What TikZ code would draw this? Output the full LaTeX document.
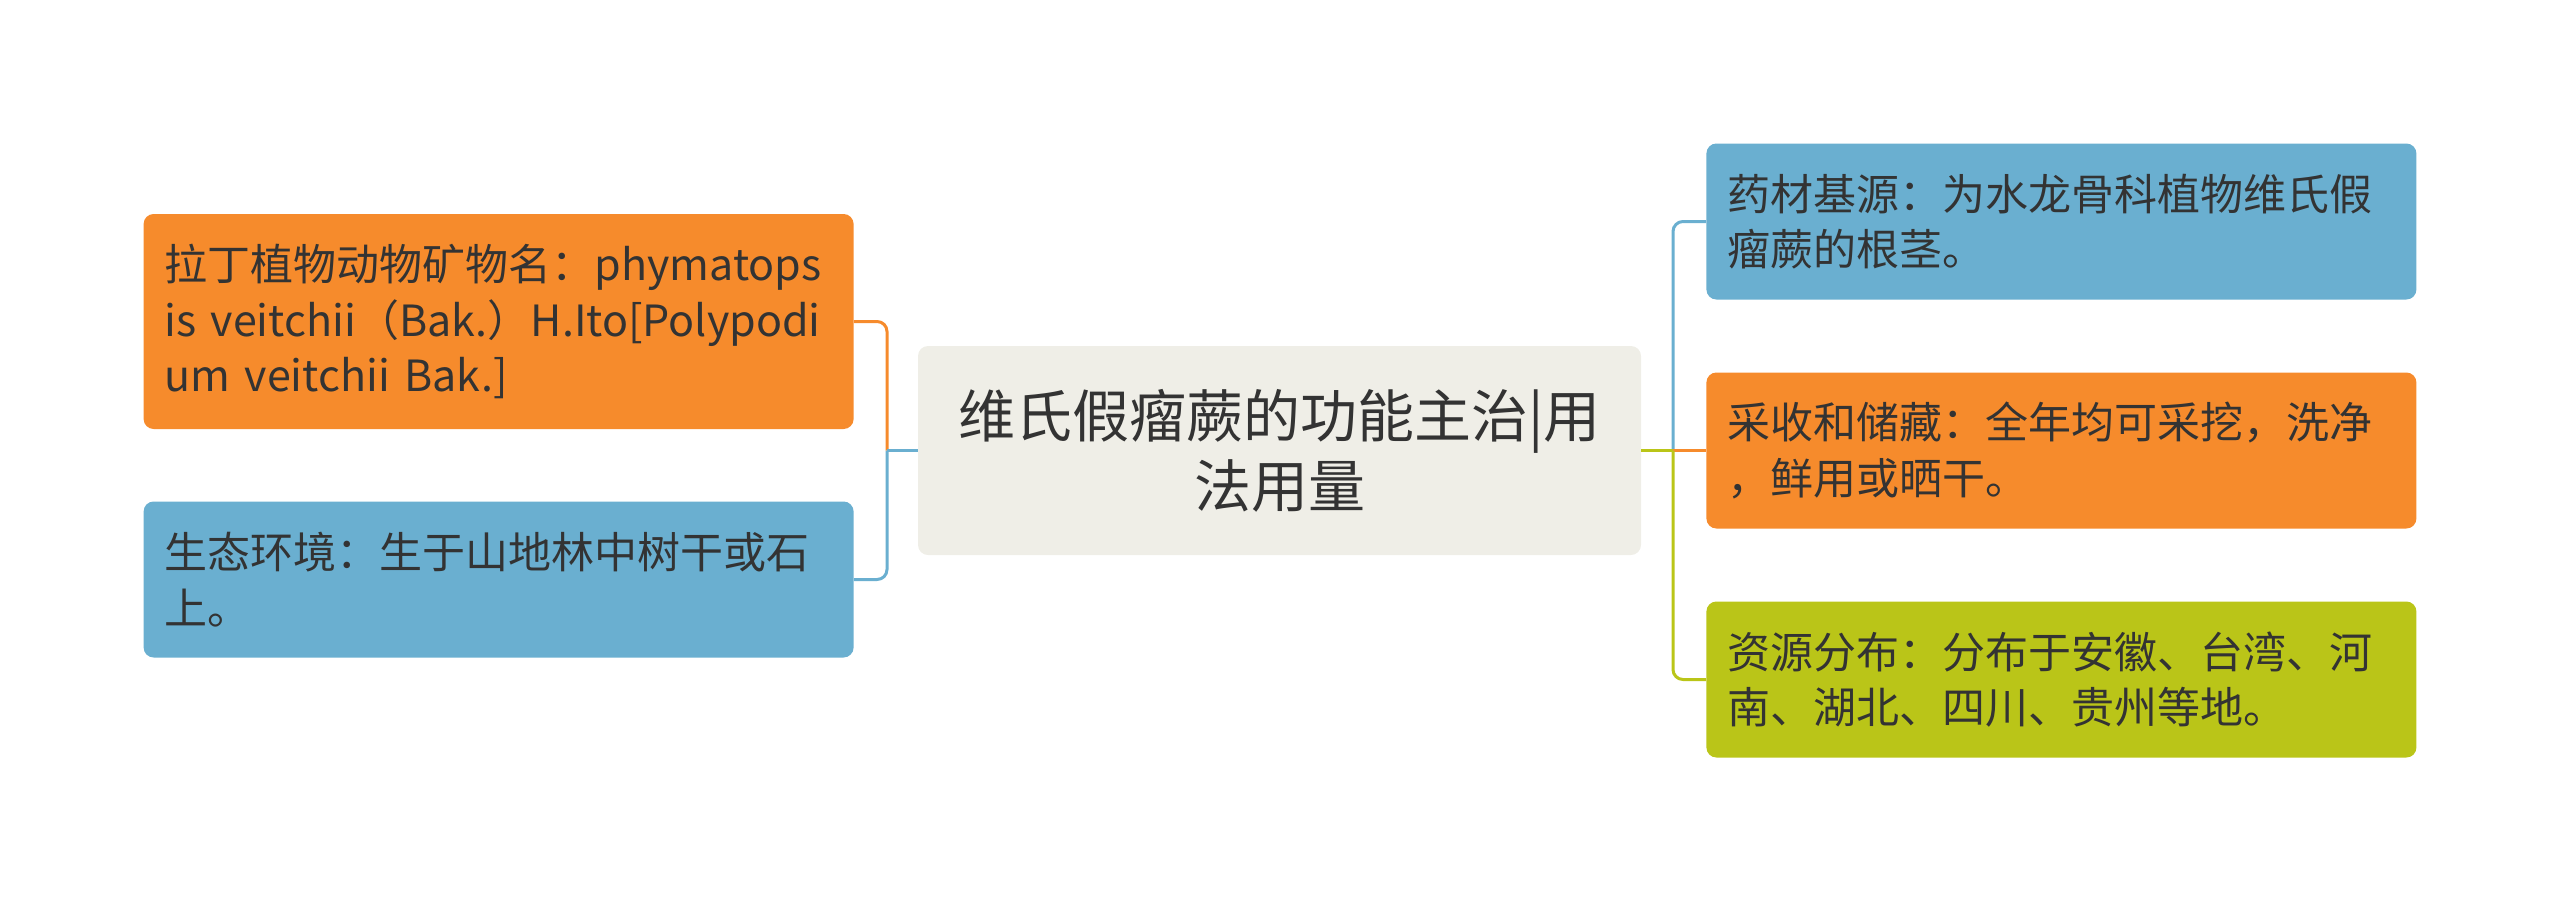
\documentclass[tikz,border=0pt]{standalone}
\usepackage{fontspec}
\setmainfont{Noto Sans CJK SC}
\usetikzlibrary{positioning}
\definecolor{mapOrange}{HTML}{F68B2C}
\definecolor{mapBlue}{HTML}{6AAFD0}
\definecolor{mapGreen}{HTML}{BAC518}
\definecolor{mapRoot}{HTML}{EFEEE7}
\definecolor{mapText}{HTML}{333333}

\begin{document}
\begin{tikzpicture}[x=1pt, y=-1pt,
		topic/.style={rounded corners=10pt, text=mapText, align=left, text width=668pt,
			inner xsep=21pt, inner ysep=0pt, minimum height=156pt,
			font=\fontsize{43}{55.5}\selectfont},
		root/.style={rounded corners=10pt, fill=mapRoot, text=mapText, align=center,
			text width=690pt, minimum width=723pt, minimum height=209pt,
			font=\fontsize{57}{70}\selectfont},
		link/.style={line width=3pt, rounded corners=10pt}]
		\useasboundingbox (0,0) rectangle (2560,903);
		\node[root] (root) at (1279.5,450.5) {维氏假瘤蕨的功能主治|用\\法用量};
		% left side
		\node[topic, fill=mapOrange, minimum height=215pt, left=64pt of root, yshift=129pt] (latin)
			{拉丁植物动物矿物名：phymatops\\is veitchii（Bak.）H.Ito[Polypodi\\um veitchii Bak.]};
		\node[topic, fill=mapBlue, left=64pt of root, yshift=-129pt] (habitat)
			{生态环境：生于山地林中树干或石\\上。};
		% right side
		\node[topic, fill=mapBlue, right=65pt of root, yshift=229pt] (source)
			{药材基源：为水龙骨科植物维氏假\\瘤蕨的根茎。};
		\node[topic, fill=mapOrange, right=65pt of root] (harvest)
			{采收和储藏：全年均可采挖，洗净\\，鲜用或晒干。};
		\node[topic, fill=mapGreen, right=65pt of root, yshift=-229pt] (range)
			{资源分布：分布于安徽、台湾、河\\南、湖北、四川、贵州等地。};
		\coordinate (jl) at (887,450.5);
		\coordinate (jr) at (1673,450.5);
		\draw[link, mapOrange] (jl) |- (latin.east);
		\draw[link, mapBlue] (jl) |- (habitat.east);
		\draw[link, mapBlue] (root.west) -- (jl);
		\draw[link, mapBlue] (jr) |- (source.west);
		\draw[link, mapOrange] (jr) -- (harvest.west);
		\draw[link, mapGreen] (jr) |- (range.west);
		\draw[link, mapGreen] (root.east) -- (jr);
	\end{tikzpicture}
\end{document}
